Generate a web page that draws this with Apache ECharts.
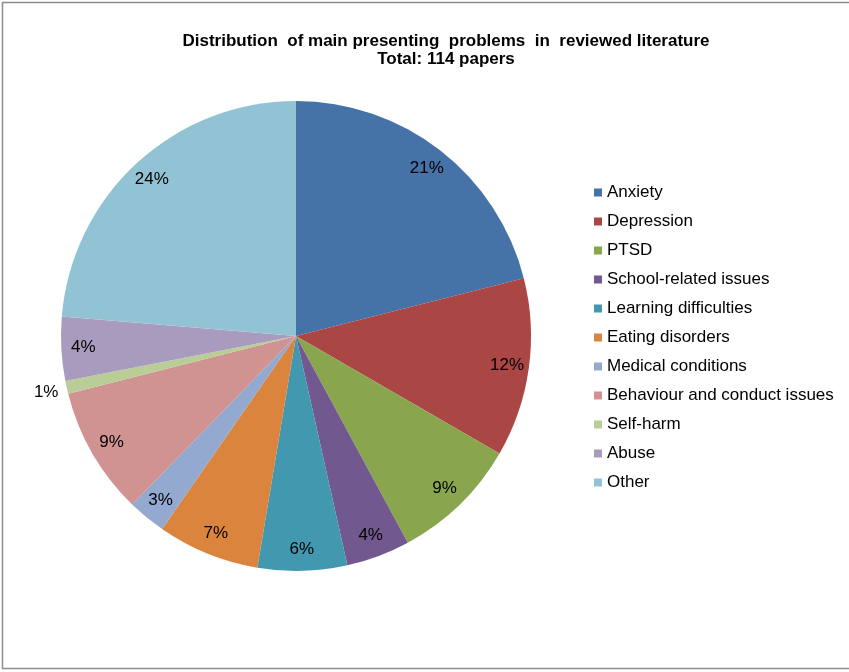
<!DOCTYPE html>
<html>
<head>
<meta charset="utf-8">
<script src="https://cdn.jsdelivr.net/npm/echarts@6/dist/echarts.min.js"></script>
<style>
html,body{margin:0;padding:0;background:#fff;}
#chart{width:849px;height:672px;}
</style>
</head>
<body>
<div id="chart"></div>
<script>
const titleLines = ["Distribution  of main presenting  problems  in  reviewed literature", "Total: 114 papers"];
const categories = ["Anxiety","Depression","PTSD","School-related issues","Learning difficulties","Eating disorders","Medical conditions","Behaviour and conduct issues","Self-harm","Abuse","Other"];
const paperCounts = [24,14,10,5,7,8,3,10,1,5,27];
const colors = ["#4572A7","#AA4643","#89A54E","#71588F","#4198AF","#DB843D","#93A9CF","#D19392","#B9CD96","#A99BBD","#92C3D4"];
const outsideLabelCats = ["Self-harm"];

const chart = echarts.init(document.getElementById('chart'), null, {renderer:'canvas'});
const FONT = 'Arial, "Liberation Sans", sans-serif';
const pctFmt = p => Math.round(p.percent) + '%';
const baseData = categories.map((c,i)=>({name:c, value:paperCounts[i]}));
const center = [296, 336];

chart.setOption({
  animation:false,
  backgroundColor:'#fff',
  color: colors,
  title:{
    text: titleLines.join('\n'),
    left: 446, top: 32, textAlign:'center', padding:0,
    textStyle:{fontFamily:FONT, fontSize:17, fontWeight:'bold', color:'#000', lineHeight:18}
  },
  legend:{
    orient:'vertical', left:594, top:184, padding:0,
    itemWidth:8, itemHeight:8, itemGap:12,
    icon:'rect',
    data: categories,
    textStyle:{fontFamily:FONT, fontSize:17, color:'#000', lineHeight:17}
  },
  graphic:[{
    type:'rect', silent:true,
    shape:{x:2.5, y:2.5, width:900, height:666},
    style:{fill:'none', stroke:'#8c8c8c', lineWidth:1.5}
  }],
  series:[
    {
      type:'pie', radius:[0,235], center:center, startAngle:90, clockwise:true,
      silent:true, label:{show:false}, labelLine:{show:false},
      itemStyle:{borderWidth:0},
      data: baseData
    },
    {
      type:'pie', radius:[190,230], center:center, startAngle:90, clockwise:true,
      silent:true, legendHoverLink:false,
      itemStyle:{color:'rgba(0,0,0,0)', borderWidth:0},
      label:{show:true, position:'inside', formatter:pctFmt, fontFamily:FONT, fontSize:17, color:'#000'},
      labelLine:{show:false},
      data: categories.map((c,i)=>({name:c, value:paperCounts[i],
        label:{show: outsideLabelCats.indexOf(c)<0}}))
    },
    {
      type:'pie', radius:[237,269], center:center, startAngle:90, clockwise:true,
      silent:true, legendHoverLink:false,
      itemStyle:{color:'rgba(0,0,0,0)', borderWidth:0},
      label:{show:true, position:'inside', formatter:pctFmt, fontFamily:FONT, fontSize:17, color:'#000'},
      labelLine:{show:false},
      data: categories.map((c,i)=>({name:c, value:paperCounts[i],
        label:{show: outsideLabelCats.indexOf(c)>=0}}))
    }
  ]
});
</script>
</body>
</html>
